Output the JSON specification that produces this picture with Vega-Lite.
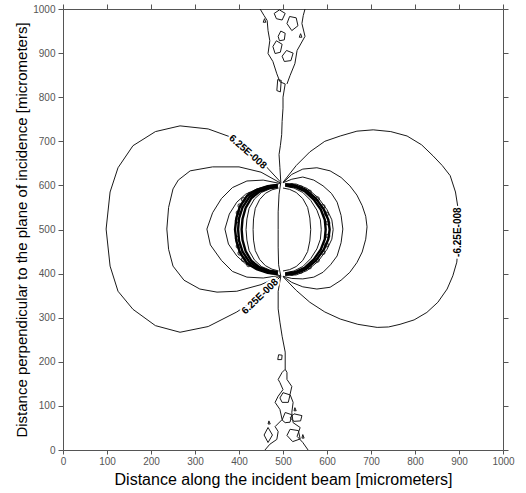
{
"$schema": "https://vega.github.io/schema/vega-lite/v6.json",
"width": 440, "height": 441, "autosize": "none",
"padding": {"left": 63, "top": 9, "right": 23, "bottom": 43},
"background": "white",
"config": {"view": {"stroke": null}, "axis": {"grid": false, "domainColor": "#555", "tickColor": "#555", "labelColor": "#555", "labelFont": "Liberation Sans", "labelFontSize": 10, "titleFont": "Liberation Sans", "titleFontWeight": "normal", "titleColor": "#000", "format": "d"}},
"datasets": {
"lines": [
{"c":"L1","g":"t","i":0,"x":495,"y":607},{"c":"L1","g":"t","i":1,"x":455,"y":650},{"c":"L1","g":"t","i":2,"x":420,"y":680},{"c":"L1","g":"t","i":3,"x":380,"y":710},{"c":"L1","g":"t","i":4,"x":330,"y":728},{"c":"L1","g":"t","i":5,"x":266,"y":735},{"c":"L1","g":"t","i":6,"x":210,"y":722},{"c":"L1","g":"t","i":7,"x":159,"y":690},{"c":"L1","g":"t","i":8,"x":125,"y":640},{"c":"L1","g":"t","i":9,"x":107,"y":585},{"c":"L1","g":"t","i":10,"x":98,"y":501},{"c":"L1","g":"t","i":11,"x":107,"y":417},{"c":"L1","g":"t","i":12,"x":125,"y":360},{"c":"L1","g":"t","i":13,"x":159,"y":319},{"c":"L1","g":"t","i":14,"x":210,"y":282},{"c":"L1","g":"t","i":15,"x":266,"y":267},{"c":"L1","g":"t","i":16,"x":330,"y":280},{"c":"L1","g":"t","i":17,"x":395,"y":313},{"c":"L1","g":"t","i":18,"x":450,"y":350},{"c":"L1","g":"t","i":19,"x":495,"y":394},
{"c":"L2","g":"t","i":0,"x":495,"y":605},{"c":"L2","g":"t","i":1,"x":450,"y":630},{"c":"L2","g":"t","i":2,"x":400,"y":642},{"c":"L2","g":"t","i":3,"x":340,"y":642},{"c":"L2","g":"t","i":4,"x":289,"y":633},{"c":"L2","g":"t","i":5,"x":262,"y":612},{"c":"L2","g":"t","i":6,"x":250,"y":592},{"c":"L2","g":"t","i":7,"x":240,"y":550},{"c":"L2","g":"t","i":8,"x":236,"y":501},{"c":"L2","g":"t","i":9,"x":240,"y":455},{"c":"L2","g":"t","i":10,"x":250,"y":417},{"c":"L2","g":"t","i":11,"x":275,"y":385},{"c":"L2","g":"t","i":12,"x":311,"y":365},{"c":"L2","g":"t","i":13,"x":350,"y":358},{"c":"L2","g":"t","i":14,"x":395,"y":360},{"c":"L2","g":"t","i":15,"x":450,"y":375},{"c":"L2","g":"t","i":16,"x":495,"y":395},
{"c":"L3","g":"t","i":0,"x":495,"y":604},{"c":"L3","g":"t","i":1,"x":455,"y":612},{"c":"L3","g":"t","i":2,"x":418,"y":610},{"c":"L3","g":"t","i":3,"x":385,"y":595},{"c":"L3","g":"t","i":4,"x":360,"y":570},{"c":"L3","g":"t","i":5,"x":340,"y":538},{"c":"L3","g":"t","i":6,"x":327,"y":501},{"c":"L3","g":"t","i":7,"x":335,"y":465},{"c":"L3","g":"t","i":8,"x":360,"y":430},{"c":"L3","g":"t","i":9,"x":385,"y":405},{"c":"L3","g":"t","i":10,"x":418,"y":392},{"c":"L3","g":"t","i":11,"x":455,"y":390},{"c":"L3","g":"t","i":12,"x":495,"y":396},
{"c":"L4","g":"t","i":0,"x":490,"y":603},{"c":"L4","g":"t","i":1,"x":470,"y":600},{"c":"L4","g":"t","i":2,"x":441,"y":592},{"c":"L4","g":"t","i":3,"x":415,"y":580},{"c":"L4","g":"t","i":4,"x":395,"y":562},{"c":"L4","g":"t","i":5,"x":378,"y":535},{"c":"L4","g":"t","i":6,"x":368,"y":501},{"c":"L4","g":"t","i":7,"x":376,"y":467},{"c":"L4","g":"t","i":8,"x":395,"y":440},{"c":"L4","g":"t","i":9,"x":415,"y":422},{"c":"L4","g":"t","i":10,"x":441,"y":410},{"c":"L4","g":"t","i":11,"x":470,"y":400},{"c":"L4","g":"t","i":12,"x":490,"y":397},
{"c":"B1","g":"b","i":0,"x":488,"y":601},{"c":"B1","g":"b","i":1,"x":465,"y":598},{"c":"B1","g":"b","i":2,"x":440,"y":590},{"c":"B1","g":"b","i":3,"x":418,"y":576},{"c":"B1","g":"b","i":4,"x":402,"y":552},{"c":"B1","g":"b","i":5,"x":394,"y":526},{"c":"B1","g":"b","i":6,"x":391,"y":500},{"c":"B1","g":"b","i":7,"x":394,"y":474},{"c":"B1","g":"b","i":8,"x":402,"y":448},{"c":"B1","g":"b","i":9,"x":418,"y":424},{"c":"B1","g":"b","i":10,"x":440,"y":410},{"c":"B1","g":"b","i":11,"x":465,"y":402},{"c":"B1","g":"b","i":12,"x":488,"y":399},
{"c":"B2","g":"b","i":0,"x":488,"y":599},{"c":"B2","g":"b","i":1,"x":466,"y":596},{"c":"B2","g":"b","i":2,"x":443,"y":588},{"c":"B2","g":"b","i":3,"x":423,"y":573},{"c":"B2","g":"b","i":4,"x":408,"y":550},{"c":"B2","g":"b","i":5,"x":400,"y":525},{"c":"B2","g":"b","i":6,"x":398,"y":500},{"c":"B2","g":"b","i":7,"x":400,"y":475},{"c":"B2","g":"b","i":8,"x":408,"y":450},{"c":"B2","g":"b","i":9,"x":423,"y":427},{"c":"B2","g":"b","i":10,"x":443,"y":412},{"c":"B2","g":"b","i":11,"x":466,"y":404},{"c":"B2","g":"b","i":12,"x":488,"y":401},
{"c":"B3","g":"b","i":0,"x":488,"y":597},{"c":"B3","g":"b","i":1,"x":468,"y":594},{"c":"B3","g":"b","i":2,"x":447,"y":586},{"c":"B3","g":"b","i":3,"x":428,"y":571},{"c":"B3","g":"b","i":4,"x":415,"y":549},{"c":"B3","g":"b","i":5,"x":408,"y":524},{"c":"B3","g":"b","i":6,"x":406,"y":500},{"c":"B3","g":"b","i":7,"x":408,"y":476},{"c":"B3","g":"b","i":8,"x":415,"y":451},{"c":"B3","g":"b","i":9,"x":428,"y":429},{"c":"B3","g":"b","i":10,"x":447,"y":414},{"c":"B3","g":"b","i":11,"x":468,"y":406},{"c":"B3","g":"b","i":12,"x":488,"y":403},
{"c":"B4","g":"t","i":0,"x":488,"y":595},{"c":"B4","g":"t","i":1,"x":470,"y":592},{"c":"B4","g":"t","i":2,"x":451,"y":584},{"c":"B4","g":"t","i":3,"x":435,"y":569},{"c":"B4","g":"t","i":4,"x":423,"y":548},{"c":"B4","g":"t","i":5,"x":418,"y":524},{"c":"B4","g":"t","i":6,"x":416,"y":500},{"c":"B4","g":"t","i":7,"x":418,"y":476},{"c":"B4","g":"t","i":8,"x":423,"y":452},{"c":"B4","g":"t","i":9,"x":435,"y":431},{"c":"B4","g":"t","i":10,"x":451,"y":416},{"c":"B4","g":"t","i":11,"x":470,"y":408},{"c":"B4","g":"t","i":12,"x":488,"y":405},
{"c":"VL","g":"t","i":0,"x":490,"y":594},{"c":"VL","g":"t","i":1,"x":475,"y":590},{"c":"VL","g":"t","i":2,"x":460,"y":582},{"c":"VL","g":"t","i":3,"x":447,"y":568},{"c":"VL","g":"t","i":4,"x":437,"y":548},{"c":"VL","g":"t","i":5,"x":433,"y":524},{"c":"VL","g":"t","i":6,"x":432,"y":500},{"c":"VL","g":"t","i":7,"x":433,"y":476},{"c":"VL","g":"t","i":8,"x":437,"y":452},{"c":"VL","g":"t","i":9,"x":447,"y":432},{"c":"VL","g":"t","i":10,"x":460,"y":418},{"c":"VL","g":"t","i":11,"x":475,"y":410},{"c":"VL","g":"t","i":12,"x":490,"y":406},
{"c":"Q1","g":"t","i":0,"x":505,"y":604},{"c":"Q1","g":"t","i":1,"x":530,"y":603},{"c":"Q1","g":"t","i":2,"x":555,"y":593},{"c":"Q1","g":"t","i":3,"x":580,"y":572},{"c":"Q1","g":"t","i":4,"x":600,"y":545},{"c":"Q1","g":"t","i":5,"x":611,"y":522},{"c":"Q1","g":"t","i":6,"x":614,"y":500},{"c":"Q1","g":"t","i":7,"x":611,"y":478},{"c":"Q1","g":"t","i":8,"x":600,"y":455},{"c":"Q1","g":"t","i":9,"x":580,"y":428},{"c":"Q1","g":"t","i":10,"x":555,"y":407},{"c":"Q1","g":"t","i":11,"x":530,"y":397},{"c":"Q1","g":"t","i":12,"x":505,"y":396},
{"c":"Q2","g":"b","i":0,"x":505,"y":602},{"c":"Q2","g":"b","i":1,"x":528,"y":600},{"c":"Q2","g":"b","i":2,"x":552,"y":590},{"c":"Q2","g":"b","i":3,"x":575,"y":570},{"c":"Q2","g":"b","i":4,"x":593,"y":545},{"c":"Q2","g":"b","i":5,"x":603,"y":522},{"c":"Q2","g":"b","i":6,"x":606,"y":500},{"c":"Q2","g":"b","i":7,"x":603,"y":478},{"c":"Q2","g":"b","i":8,"x":593,"y":455},{"c":"Q2","g":"b","i":9,"x":575,"y":430},{"c":"Q2","g":"b","i":10,"x":552,"y":410},{"c":"Q2","g":"b","i":11,"x":528,"y":400},{"c":"Q2","g":"b","i":12,"x":505,"y":398},
{"c":"Q3","g":"b","i":0,"x":505,"y":600},{"c":"Q3","g":"b","i":1,"x":527,"y":597},{"c":"Q3","g":"b","i":2,"x":549,"y":587},{"c":"Q3","g":"b","i":3,"x":570,"y":568},{"c":"Q3","g":"b","i":4,"x":586,"y":545},{"c":"Q3","g":"b","i":5,"x":595,"y":522},{"c":"Q3","g":"b","i":6,"x":597,"y":500},{"c":"Q3","g":"b","i":7,"x":595,"y":478},{"c":"Q3","g":"b","i":8,"x":586,"y":455},{"c":"Q3","g":"b","i":9,"x":570,"y":432},{"c":"Q3","g":"b","i":10,"x":549,"y":413},{"c":"Q3","g":"b","i":11,"x":527,"y":403},{"c":"Q3","g":"b","i":12,"x":505,"y":400},
{"c":"Q4","g":"t","i":0,"x":505,"y":598},{"c":"Q4","g":"t","i":1,"x":525,"y":594},{"c":"Q4","g":"t","i":2,"x":545,"y":584},{"c":"Q4","g":"t","i":3,"x":563,"y":566},{"c":"Q4","g":"t","i":4,"x":577,"y":544},{"c":"Q4","g":"t","i":5,"x":585,"y":522},{"c":"Q4","g":"t","i":6,"x":587,"y":500},{"c":"Q4","g":"t","i":7,"x":585,"y":478},{"c":"Q4","g":"t","i":8,"x":577,"y":456},{"c":"Q4","g":"t","i":9,"x":563,"y":434},{"c":"Q4","g":"t","i":10,"x":545,"y":416},{"c":"Q4","g":"t","i":11,"x":525,"y":406},{"c":"Q4","g":"t","i":12,"x":505,"y":402},
{"c":"VR","g":"t","i":0,"x":500,"y":594},{"c":"VR","g":"t","i":1,"x":515,"y":591},{"c":"VR","g":"t","i":2,"x":530,"y":584},{"c":"VR","g":"t","i":3,"x":545,"y":570},{"c":"VR","g":"t","i":4,"x":556,"y":550},{"c":"VR","g":"t","i":5,"x":561,"y":526},{"c":"VR","g":"t","i":6,"x":563,"y":500},{"c":"VR","g":"t","i":7,"x":561,"y":474},{"c":"VR","g":"t","i":8,"x":556,"y":450},{"c":"VR","g":"t","i":9,"x":545,"y":430},{"c":"VR","g":"t","i":10,"x":530,"y":416},{"c":"VR","g":"t","i":11,"x":515,"y":409},{"c":"VR","g":"t","i":12,"x":500,"y":406},
{"c":"R3","g":"t","i":0,"x":500,"y":606},{"c":"R3","g":"t","i":1,"x":520,"y":614},{"c":"R3","g":"t","i":2,"x":545,"y":619},{"c":"R3","g":"t","i":3,"x":570,"y":612},{"c":"R3","g":"t","i":4,"x":591,"y":599},{"c":"R3","g":"t","i":5,"x":610,"y":582},{"c":"R3","g":"t","i":6,"x":623,"y":562},{"c":"R3","g":"t","i":7,"x":632,"y":532},{"c":"R3","g":"t","i":8,"x":636,"y":501},{"c":"R3","g":"t","i":9,"x":632,"y":470},{"c":"R3","g":"t","i":10,"x":623,"y":440},{"c":"R3","g":"t","i":11,"x":608,"y":420},{"c":"R3","g":"t","i":12,"x":591,"y":403},{"c":"R3","g":"t","i":13,"x":570,"y":392},{"c":"R3","g":"t","i":14,"x":545,"y":388},{"c":"R3","g":"t","i":15,"x":520,"y":389},{"c":"R3","g":"t","i":16,"x":500,"y":394},
{"c":"R2","g":"t","i":0,"x":500,"y":606},{"c":"R2","g":"t","i":1,"x":520,"y":625},{"c":"R2","g":"t","i":2,"x":545,"y":637},{"c":"R2","g":"t","i":3,"x":577,"y":640},{"c":"R2","g":"t","i":4,"x":607,"y":633},{"c":"R2","g":"t","i":5,"x":632,"y":618},{"c":"R2","g":"t","i":6,"x":652,"y":599},{"c":"R2","g":"t","i":7,"x":668,"y":578},{"c":"R2","g":"t","i":8,"x":680,"y":554},{"c":"R2","g":"t","i":9,"x":688,"y":530},{"c":"R2","g":"t","i":10,"x":691,"y":506},{"c":"R2","g":"t","i":11,"x":688,"y":478},{"c":"R2","g":"t","i":12,"x":680,"y":449},{"c":"R2","g":"t","i":13,"x":668,"y":425},{"c":"R2","g":"t","i":14,"x":652,"y":403},{"c":"R2","g":"t","i":15,"x":632,"y":385},{"c":"R2","g":"t","i":16,"x":607,"y":369},{"c":"R2","g":"t","i":17,"x":577,"y":365},{"c":"R2","g":"t","i":18,"x":545,"y":370},{"c":"R2","g":"t","i":19,"x":520,"y":380},{"c":"R2","g":"t","i":20,"x":500,"y":394},
{"c":"R1","g":"t","i":0,"x":500,"y":607},{"c":"R1","g":"t","i":1,"x":530,"y":645},{"c":"R1","g":"t","i":2,"x":561,"y":676},{"c":"R1","g":"t","i":3,"x":595,"y":700},{"c":"R1","g":"t","i":4,"x":630,"y":712},{"c":"R1","g":"t","i":5,"x":668,"y":723},{"c":"R1","g":"t","i":6,"x":705,"y":726},{"c":"R1","g":"t","i":7,"x":745,"y":722},{"c":"R1","g":"t","i":8,"x":782,"y":712},{"c":"R1","g":"t","i":9,"x":815,"y":692},{"c":"R1","g":"t","i":10,"x":841,"y":667},{"c":"R1","g":"t","i":11,"x":862,"y":645},{"c":"R1","g":"t","i":12,"x":880,"y":622},{"c":"R1","g":"t","i":13,"x":892,"y":585},{"c":"R1","g":"t","i":14,"x":898,"y":547},{"c":"R1","g":"t","i":15,"x":902,"y":501},{"c":"R1","g":"t","i":16,"x":898,"y":465},{"c":"R1","g":"t","i":17,"x":895,"y":426},{"c":"R1","g":"t","i":18,"x":886,"y":395},{"c":"R1","g":"t","i":19,"x":873,"y":365},{"c":"R1","g":"t","i":20,"x":852,"y":335},{"c":"R1","g":"t","i":21,"x":827,"y":312},{"c":"R1","g":"t","i":22,"x":798,"y":295},{"c":"R1","g":"t","i":23,"x":766,"y":285},{"c":"R1","g":"t","i":24,"x":740,"y":279},{"c":"R1","g":"t","i":25,"x":714,"y":278},{"c":"R1","g":"t","i":26,"x":670,"y":285},{"c":"R1","g":"t","i":27,"x":630,"y":297},{"c":"R1","g":"t","i":28,"x":595,"y":313},{"c":"R1","g":"t","i":29,"x":561,"y":335},{"c":"R1","g":"t","i":30,"x":530,"y":362},{"c":"R1","g":"t","i":31,"x":500,"y":393},
{"c":"CL","g":"t","i":0,"x":505,"y":830},{"c":"CL","g":"t","i":1,"x":500,"y":800},{"c":"CL","g":"t","i":2,"x":500,"y":775},{"c":"CL","g":"t","i":3,"x":498,"y":745},{"c":"CL","g":"t","i":4,"x":497,"y":715},{"c":"CL","g":"t","i":5,"x":494,"y":690},{"c":"CL","g":"t","i":6,"x":491,"y":670},{"c":"CL","g":"t","i":7,"x":493,"y":640},{"c":"CL","g":"t","i":8,"x":495,"y":607},{"c":"CL","g":"t","i":9,"x":491,"y":580},{"c":"CL","g":"t","i":10,"x":489,"y":540},{"c":"CL","g":"t","i":11,"x":489,"y":500},{"c":"CL","g":"t","i":12,"x":489,"y":460},{"c":"CL","g":"t","i":13,"x":490,"y":420},{"c":"CL","g":"t","i":14,"x":495,"y":394},{"c":"CL","g":"t","i":15,"x":489,"y":360},{"c":"CL","g":"t","i":16,"x":489,"y":320},{"c":"CL","g":"t","i":17,"x":493,"y":290},{"c":"CL","g":"t","i":18,"x":498,"y":258},{"c":"CL","g":"t","i":19,"x":505,"y":222},{"c":"CL","g":"t","i":20,"x":505,"y":183},
{"c":"TA","g":"t","i":0,"x":448,"y":1000},{"c":"TA","g":"t","i":1,"x":457,"y":985},{"c":"TA","g":"t","i":2,"x":464,"y":974},{"c":"TA","g":"t","i":3,"x":466,"y":951},{"c":"TA","g":"t","i":4,"x":470,"y":928},{"c":"TA","g":"t","i":5,"x":466,"y":899},{"c":"TA","g":"t","i":6,"x":477,"y":881},{"c":"TA","g":"t","i":7,"x":486,"y":853},{"c":"TA","g":"t","i":8,"x":493,"y":835},{"c":"TA","g":"t","i":9,"x":505,"y":830},
{"c":"TB","g":"t","i":0,"x":550,"y":1000},{"c":"TB","g":"t","i":1,"x":546,"y":985},{"c":"TB","g":"t","i":2,"x":543,"y":967},{"c":"TB","g":"t","i":3,"x":550,"y":938},{"c":"TB","g":"t","i":4,"x":532,"y":906},{"c":"TB","g":"t","i":5,"x":527,"y":876},{"c":"TB","g":"t","i":6,"x":516,"y":849},{"c":"TB","g":"t","i":7,"x":509,"y":830},
{"c":"T1","g":"t","i":0,"x":489,"y":938},{"c":"T1","g":"t","i":1,"x":495,"y":950},{"c":"T1","g":"t","i":2,"x":505,"y":945},{"c":"T1","g":"t","i":3,"x":503,"y":930},{"c":"T1","g":"t","i":4,"x":492,"y":928},{"c":"T1","g":"t","i":5,"x":489,"y":938},
{"c":"T2","g":"t","i":0,"x":509,"y":967},{"c":"T2","g":"t","i":1,"x":515,"y":983},{"c":"T2","g":"t","i":2,"x":530,"y":980},{"c":"T2","g":"t","i":3,"x":534,"y":962},{"c":"T2","g":"t","i":4,"x":520,"y":951},{"c":"T2","g":"t","i":5,"x":509,"y":967},
{"c":"T3","g":"t","i":0,"x":477,"y":915},{"c":"T3","g":"t","i":1,"x":485,"y":928},{"c":"T3","g":"t","i":2,"x":498,"y":920},{"c":"T3","g":"t","i":3,"x":494,"y":902},{"c":"T3","g":"t","i":4,"x":482,"y":899},{"c":"T3","g":"t","i":5,"x":477,"y":915},
{"c":"T4","g":"t","i":0,"x":498,"y":893},{"c":"T4","g":"t","i":1,"x":508,"y":906},{"c":"T4","g":"t","i":2,"x":523,"y":900},{"c":"T4","g":"t","i":3,"x":518,"y":883},{"c":"T4","g":"t","i":4,"x":503,"y":881},{"c":"T4","g":"t","i":5,"x":498,"y":893},
{"c":"T5","g":"t","i":0,"x":480,"y":990},{"c":"T5","g":"t","i":1,"x":492,"y":998},{"c":"T5","g":"t","i":2,"x":505,"y":990},{"c":"T5","g":"t","i":3,"x":498,"y":975},{"c":"T5","g":"t","i":4,"x":485,"y":978},{"c":"T5","g":"t","i":5,"x":480,"y":990},
{"c":"T6","g":"t","i":0,"x":486,"y":815},{"c":"T6","g":"t","i":1,"x":488,"y":840},{"c":"T6","g":"t","i":2,"x":496,"y":838},{"c":"T6","g":"t","i":3,"x":494,"y":812},{"c":"T6","g":"t","i":4,"x":486,"y":815},
{"c":"T7","g":"t","i":0,"x":455,"y":970},{"c":"T7","g":"t","i":1,"x":458,"y":978},{"c":"T7","g":"t","i":2,"x":461,"y":970},{"c":"T7","g":"t","i":3,"x":455,"y":970},
{"c":"T8","g":"t","i":0,"x":537,"y":936},{"c":"T8","g":"t","i":1,"x":540,"y":944},{"c":"T8","g":"t","i":2,"x":543,"y":936},{"c":"T8","g":"t","i":3,"x":537,"y":936},
{"c":"BA","g":"t","i":0,"x":459,"y":0},{"c":"BA","g":"t","i":1,"x":470,"y":13},{"c":"BA","g":"t","i":2,"x":486,"y":24},{"c":"BA","g":"t","i":3,"x":489,"y":42},{"c":"BA","g":"t","i":4,"x":482,"y":53},{"c":"BA","g":"t","i":5,"x":498,"y":69},{"c":"BA","g":"t","i":6,"x":493,"y":92},{"c":"BA","g":"t","i":7,"x":482,"y":108},{"c":"BA","g":"t","i":8,"x":489,"y":122},{"c":"BA","g":"t","i":9,"x":500,"y":137},{"c":"BA","g":"t","i":10,"x":493,"y":153},{"c":"BA","g":"t","i":11,"x":489,"y":160},{"c":"BA","g":"t","i":12,"x":498,"y":176},{"c":"BA","g":"t","i":13,"x":505,"y":183},
{"c":"BB","g":"t","i":0,"x":557,"y":0},{"c":"BB","g":"t","i":1,"x":545,"y":17},{"c":"BB","g":"t","i":2,"x":532,"y":31},{"c":"BB","g":"t","i":3,"x":539,"y":51},{"c":"BB","g":"t","i":4,"x":523,"y":62},{"c":"BB","g":"t","i":5,"x":520,"y":85},{"c":"BB","g":"t","i":6,"x":523,"y":108},{"c":"BB","g":"t","i":7,"x":516,"y":126},{"c":"BB","g":"t","i":8,"x":520,"y":144},{"c":"BB","g":"t","i":9,"x":509,"y":160},{"c":"BB","g":"t","i":10,"x":509,"y":176},{"c":"BB","g":"t","i":11,"x":505,"y":183},
{"c":"K1","g":"t","i":0,"x":466,"y":17},{"c":"K1","g":"t","i":1,"x":457,"y":34},{"c":"K1","g":"t","i":2,"x":466,"y":51},{"c":"K1","g":"t","i":3,"x":476,"y":34},{"c":"K1","g":"t","i":4,"x":466,"y":17},
{"c":"K2","g":"t","i":0,"x":498,"y":68},{"c":"K2","g":"t","i":1,"x":505,"y":85},{"c":"K2","g":"t","i":2,"x":520,"y":80},{"c":"K2","g":"t","i":3,"x":516,"y":63},{"c":"K2","g":"t","i":4,"x":505,"y":62},{"c":"K2","g":"t","i":5,"x":498,"y":68},
{"c":"K3","g":"t","i":0,"x":509,"y":33},{"c":"K3","g":"t","i":1,"x":516,"y":47},{"c":"K3","g":"t","i":2,"x":535,"y":44},{"c":"K3","g":"t","i":3,"x":539,"y":25},{"c":"K3","g":"t","i":4,"x":522,"y":19},{"c":"K3","g":"t","i":5,"x":509,"y":33},
{"c":"K4","g":"t","i":0,"x":516,"y":73},{"c":"K4","g":"t","i":1,"x":525,"y":82},{"c":"K4","g":"t","i":2,"x":543,"y":78},{"c":"K4","g":"t","i":3,"x":540,"y":66},{"c":"K4","g":"t","i":4,"x":525,"y":65},{"c":"K4","g":"t","i":5,"x":516,"y":73},
{"c":"K5","g":"t","i":0,"x":493,"y":118},{"c":"K5","g":"t","i":1,"x":500,"y":130},{"c":"K5","g":"t","i":2,"x":516,"y":125},{"c":"K5","g":"t","i":3,"x":512,"y":108},{"c":"K5","g":"t","i":4,"x":498,"y":108},{"c":"K5","g":"t","i":5,"x":493,"y":118},
{"c":"K6","g":"t","i":0,"x":488,"y":205},{"c":"K6","g":"t","i":1,"x":490,"y":216},{"c":"K6","g":"t","i":2,"x":498,"y":215},{"c":"K6","g":"t","i":3,"x":497,"y":205},{"c":"K6","g":"t","i":4,"x":488,"y":205},
{"c":"K7","g":"t","i":0,"x":466,"y":59},{"c":"K7","g":"t","i":1,"x":468,"y":66},{"c":"K7","g":"t","i":2,"x":471,"y":59},{"c":"K7","g":"t","i":3,"x":466,"y":59},
{"c":"K8","g":"t","i":0,"x":525,"y":89},{"c":"K8","g":"t","i":1,"x":527,"y":96},{"c":"K8","g":"t","i":2,"x":530,"y":89},{"c":"K8","g":"t","i":3,"x":525,"y":89},
{"c":"K9","g":"t","i":0,"x":543,"y":27},{"c":"K9","g":"t","i":1,"x":545,"y":35},{"c":"K9","g":"t","i":2,"x":548,"y":27},{"c":"K9","g":"t","i":3,"x":543,"y":27}
],
"dots": [
{"x":425,"y":580},{"x":410,"y":568},{"x":402,"y":554},{"x":398,"y":538},{"x":396,"y":520},{"x":396,"y":480},{"x":398,"y":462},{"x":402,"y":446},{"x":410,"y":432},{"x":422,"y":420},
{"x":520,"y":600},{"x":540,"y":595},{"x":560,"y":585},{"x":578,"y":570},{"x":591,"y":552},{"x":599,"y":535},{"x":602,"y":515},{"x":602,"y":485},{"x":599,"y":465},{"x":591,"y":448},{"x":578,"y":430},{"x":560,"y":415},{"x":540,"y":405},{"x":520,"y":400}
],
"lab1": [{"x":420,"y":676,"t":"6.25E-008"}],
"lab2": [{"x":448,"y":348,"t":"6.25E-008"}],
"lab3": [{"x":898,"y":494,"t":"-6.25E-008"}]
},
"layer": [
{"data": {"name": "lines"}, "transform": [{"filter": "datum.g === 't'"}],
 "mark": {"type": "line", "color": "#1a1a1a", "strokeWidth": 1, "interpolate": "linear"},
 "encoding": {
  "x": {"field": "x", "type": "quantitative", "scale": {"domain": [0, 1000], "nice": false, "zero": false}, "axis": {"orient": "bottom", "values": [0,100,200,300,400,500,600,700,800,900,1000], "tickSize": 4, "labelPadding": 2, "labelFlush": false, "title": "Distance along the incident beam [micrometers]", "titleFontSize": 16, "titlePadding": 5}},
  "y": {"field": "y", "type": "quantitative", "scale": {"domain": [0, 1000], "nice": false, "zero": false}, "axis": {"orient": "left", "values": [0,100,200,300,400,500,600,700,800,900,1000], "tickSize": 5, "labelPadding": 3, "labelFlush": false, "title": "Distance perpendicular to the plane of incidence [micrometers]", "titleFontSize": 15, "titlePadding": 3}},
  "detail": {"field": "c"}, "order": {"field": "i", "type": "quantitative"}}},
{"data": {"name": "lines"}, "transform": [{"filter": "datum.g === 'b'"}],
 "mark": {"type": "line", "color": "#000", "strokeWidth": 2.4},
 "encoding": {
  "x": {"field": "x", "type": "quantitative", "axis": {"orient": "top", "values": [0,100,200,300,400,500,600,700,800,900,1000], "labels": false, "tickSize": 5, "title": null}},
  "y": {"field": "y", "type": "quantitative", "axis": {"orient": "right", "values": [0,100,200,300,400,500,600,700,800,900,1000], "labels": false, "tickSize": 5, "title": null}},
  "detail": {"field": "c"}, "order": {"field": "i", "type": "quantitative"}}},
{"data": {"name": "dots"},
 "mark": {"type": "point", "shape": "circle", "size": 14, "filled": false, "stroke": "#000", "strokeWidth": 1.2},
 "encoding": {"x": {"field": "x", "type": "quantitative", "axis": null}, "y": {"field": "y", "type": "quantitative", "axis": null}}},
{"data": {"name": "lab1"}, "mark": {"type": "text", "angle": 41, "font": "Liberation Sans", "fontSize": 10, "fontWeight": "bold", "stroke": "white", "strokeWidth": 4, "fill": "white"},
 "encoding": {"x": {"field": "x", "type": "quantitative", "axis": null}, "y": {"field": "y", "type": "quantitative", "axis": null}, "text": {"field": "t"}}},
{"data": {"name": "lab1"}, "mark": {"type": "text", "angle": 41, "font": "Liberation Sans", "fontSize": 10, "fontWeight": "bold", "fill": "#000"},
 "encoding": {"x": {"field": "x", "type": "quantitative", "axis": null}, "y": {"field": "y", "type": "quantitative", "axis": null}, "text": {"field": "t"}}},
{"data": {"name": "lab2"}, "mark": {"type": "text", "angle": -44, "font": "Liberation Sans", "fontSize": 10, "fontWeight": "bold", "stroke": "white", "strokeWidth": 4, "fill": "white"},
 "encoding": {"x": {"field": "x", "type": "quantitative", "axis": null}, "y": {"field": "y", "type": "quantitative", "axis": null}, "text": {"field": "t"}}},
{"data": {"name": "lab2"}, "mark": {"type": "text", "angle": -44, "font": "Liberation Sans", "fontSize": 10, "fontWeight": "bold", "fill": "#000"},
 "encoding": {"x": {"field": "x", "type": "quantitative", "axis": null}, "y": {"field": "y", "type": "quantitative", "axis": null}, "text": {"field": "t"}}},
{"data": {"name": "lab3"}, "mark": {"type": "text", "angle": 270, "font": "Liberation Sans", "fontSize": 10, "fontWeight": "bold", "stroke": "white", "strokeWidth": 4, "fill": "white"},
 "encoding": {"x": {"field": "x", "type": "quantitative", "axis": null}, "y": {"field": "y", "type": "quantitative", "axis": null}, "text": {"field": "t"}}},
{"data": {"name": "lab3"}, "mark": {"type": "text", "angle": 270, "font": "Liberation Sans", "fontSize": 10, "fontWeight": "bold", "fill": "#000"},
 "encoding": {"x": {"field": "x", "type": "quantitative", "axis": null}, "y": {"field": "y", "type": "quantitative", "axis": null}, "text": {"field": "t"}}}
],
"resolve": {"axis": {"x": "independent", "y": "independent"}}
}
